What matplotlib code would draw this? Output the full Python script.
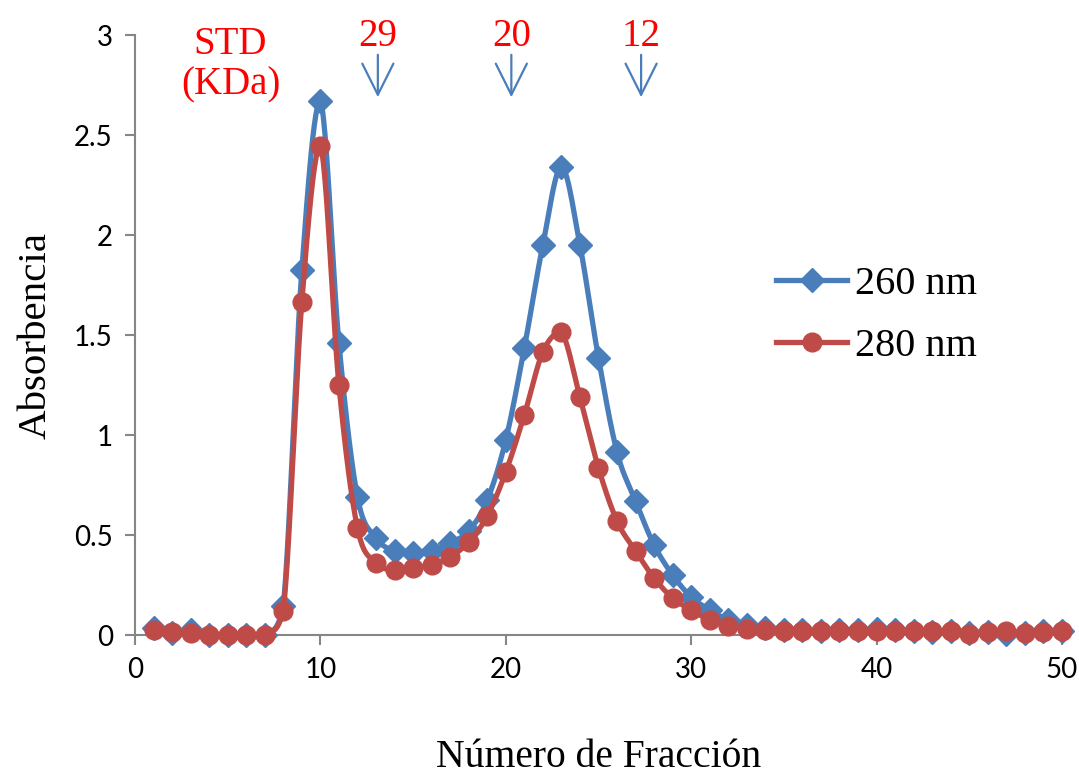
import numpy as np
import matplotlib
matplotlib.use("Agg")
import matplotlib.pyplot as plt
from matplotlib.lines import Line2D

fraccion = list(range(1, 51))
abs_260 = [0.035, 0.01, 0.025, 0.0, 0.0, 0.0, 0.0, 0.145, 1.825, 2.67,
           1.46, 0.69, 0.485, 0.42, 0.41, 0.42, 0.46, 0.52, 0.675, 0.975,
           1.435, 1.95, 2.34, 1.95, 1.385, 0.915, 0.67, 0.45, 0.30, 0.19,
           0.125, 0.075, 0.05, 0.035, 0.025, 0.025, 0.02, 0.025, 0.025, 0.03,
           0.025, 0.02, 0.015, 0.02, 0.01, 0.015, 0.005, 0.01, 0.02, 0.02]
abs_280 = [0.025, 0.015, 0.01, 0.0, 0.0, 0.0, 0.0, 0.12, 1.665, 2.445,
           1.25, 0.535, 0.36, 0.325, 0.335, 0.35, 0.39, 0.465, 0.595, 0.815,
           1.10, 1.415, 1.515, 1.19, 0.835, 0.57, 0.42, 0.285, 0.185, 0.125,
           0.075, 0.045, 0.03, 0.025, 0.02, 0.02, 0.02, 0.02, 0.02, 0.02,
           0.02, 0.02, 0.02, 0.02, 0.005, 0.015, 0.02, 0.01, 0.015, 0.02]
std_labels = ["29", "20", "12"]
std_pos = [13.1, 20.3, 27.3]

def smooth(x, y, n=24):
    x = np.asarray(x, float); y = np.asarray(y, float)
    px = np.concatenate([[x[0]], x, [x[-1]]])
    py = np.concatenate([[y[0]], y, [y[-1]]])
    xs, ys = [], []
    for i in range(1, len(px) - 2):
        p0, p1, p2, p3 = [np.array([px[j], py[j]]) for j in (i - 1, i, i + 1, i + 2)]
        c1 = p1 + (p2 - p0) / 6.0
        c2 = p2 - (p3 - p1) / 6.0
        lo, hi = min(p1[1], p2[1]), max(p1[1], p2[1])
        c1[1] = np.clip(c1[1], lo, hi)
        c2[1] = np.clip(c2[1], lo, hi)
        t = np.linspace(0, 1, n, endpoint=False)[:, None]
        b = ((1 - t) ** 3) * p1 + 3 * ((1 - t) ** 2) * t * c1 + 3 * (1 - t) * t ** 2 * c2 + t ** 3 * p2
        xs.extend(b[:, 0]); ys.extend(b[:, 1])
    xs.append(x[-1]); ys.append(y[-1])
    return np.array(xs), np.array(ys)

blue = "#4a7ebb"
red = "#be4b48"
serif = ["Liberation Serif", "DejaVu Serif"]
LW = 3.8
MSD = 12.5
MSO = 13.5

fig = plt.figure(figsize=(10.79, 7.78), dpi=100)
ax = fig.add_axes([0.1251, 0.1838, 0.8591, 0.7712])

sx, sy = smooth(fraccion, abs_260)
ax.plot(sx, sy, color=blue, lw=LW, solid_capstyle="round", zorder=2, clip_on=False)
ax.plot(fraccion, abs_260, ls="none", marker="D", ms=MSD, color=blue, zorder=3, clip_on=False)
sx, sy = smooth(fraccion, abs_280)
ax.plot(sx, sy, color=red, lw=LW, solid_capstyle="round", zorder=4, clip_on=False)
ax.plot(fraccion, abs_280, ls="none", marker="o", ms=MSO, color=red, zorder=5, clip_on=False)

h1 = Line2D([], [], color=blue, lw=LW, marker="D", ms=MSD)
h2 = Line2D([], [], color=red, lw=LW, marker="o", ms=MSO)
ax.legend([h1, h2], ["260 nm", "280 nm"], loc="center left", bbox_to_anchor=(0.692, 0.533),
          frameon=False, prop={"family": serif, "size": 29}, handlelength=1.75,
          labelspacing=0.62, handletextpad=0.2, borderpad=0, borderaxespad=0)

ax.set_xlim(0, 50)
ax.set_ylim(0, 3)
ax.set_xticks(range(0, 51, 10))
ax.set_yticks([0, 0.5, 1, 1.5, 2, 2.5, 3])
ax.set_yticklabels(["0", "0.5", "1", "1.5", "2", "2.5", "3"])
for s in ["top", "right"]:
    ax.spines[s].set_visible(False)
for s in ["left", "bottom"]:
    ax.spines[s].set_color("#868686")
    ax.spines[s].set_linewidth(1.5)
ax.tick_params(direction="out", length=7, width=1.5, color="#868686",
               labelsize=20, labelcolor="black", pad=9)
for lab in ax.get_xticklabels() + ax.get_yticklabels():
    lab.set_family(["Lato", "DejaVu Sans"])

ax.set_xlabel("Número de Fracción", family=serif, fontsize=28.5, labelpad=40)
ax.set_ylabel("Absorbencia", family=serif, fontsize=29.5, labelpad=14)

ax.text(5.15, 2.852, "STD\n(KDa)", color="red", family=serif, fontsize=28,
        ha="center", va="center", linespacing=1.15)
for lab, xp in zip(std_labels, std_pos):
    ax.text(xp, 2.995, lab, color="red", family=serif, fontsize=28, ha="center", va="center")
    ax.annotate("", xy=(xp, 2.675), xytext=(xp, 2.915),
                arrowprops=dict(arrowstyle="->,head_length=0.8,head_width=0.4",
                                color=blue, lw=1.6, mutation_scale=28))

fig.savefig("out.png", dpi=100)
